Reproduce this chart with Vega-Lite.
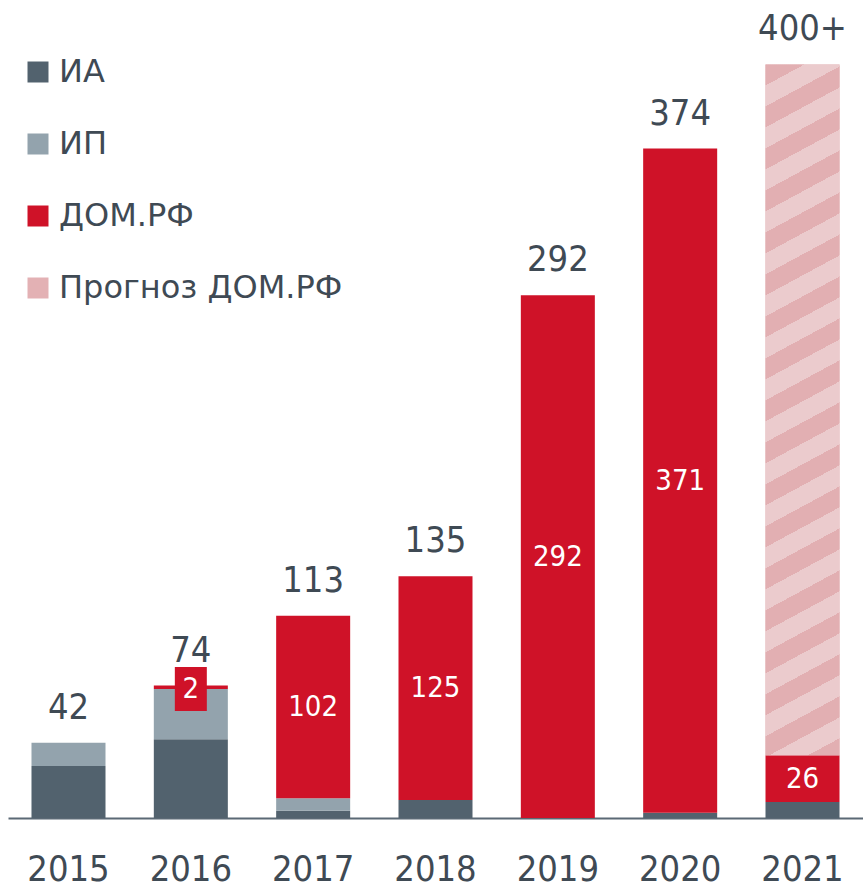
{
  "$schema": "https://vega.github.io/schema/vega-lite/v6.json",
  "width": 855,
  "height": 818,
  "padding": {"left": 8, "top": 0, "right": 0, "bottom": 69},
  "autosize": {"type": "none"},
  "background": "white",
  "config": {
    "view": {"stroke": null},
    "font": "DejaVu Sans Condensed",
    "text": {"font": "DejaVu Sans Condensed"}
  },
  "data": {
    "values": [
      {"year": 2015, "series": "ИА", "value": 29},
      {"year": 2015, "series": "ИП", "value": 13},
      {"year": 2016, "series": "ИА", "value": 44},
      {"year": 2016, "series": "ИП", "value": 28},
      {"year": 2016, "series": "ДОМ.РФ", "value": 2},
      {"year": 2017, "series": "ИА", "value": 4},
      {"year": 2017, "series": "ИП", "value": 7},
      {"year": 2017, "series": "ДОМ.РФ", "value": 102},
      {"year": 2018, "series": "ИА", "value": 10},
      {"year": 2018, "series": "ДОМ.РФ", "value": 125},
      {"year": 2019, "series": "ДОМ.РФ", "value": 292},
      {"year": 2020, "series": "ИА", "value": 3},
      {"year": 2020, "series": "ДОМ.РФ", "value": 371},
      {"year": 2021, "series": "ИА", "value": 9},
      {"year": 2021, "series": "ДОМ.РФ", "value": 26},
      {"year": 2021, "series": "Прогноз ДОМ.РФ", "value": 386}
    ]
  },
  "transform": [
    {"calculate": "indexof(['ИА','ИП','ДОМ.РФ','Прогноз ДОМ.РФ'], datum.series)", "as": "idx"},
    {"stack": "value", "groupby": ["year"], "sort": [{"field": "idx", "order": "ascending"}], "as": ["y0", "y1"]},
    {"calculate": "datum.value < 10 ? datum.y1 - 2 : (datum.y0 + datum.y1) / 2", "as": "labely"}
  ],
  "encoding": {
    "x": {
      "field": "year",
      "type": "ordinal",
      "scale": {"paddingInner": 0.395, "paddingOuter": 0.192},
      "axis": {
        "title": null,
        "labelAngle": 0,
        "ticks": false,
        "tickSize": 0,
        "grid": false,
        "domainColor": "#5B6975",
        "domainWidth": 2,
        "labelFontSize": 36,
        "labelColor": "#3F4A54",
        "labelBaseline": "alphabetic",
        "labelPadding": 62
      }
    }
  },
  "layer": [
    {
      "mark": {"type": "bar"},
      "encoding": {
        "y": {"field": "y1", "type": "quantitative", "scale": {"domain": [0, 457], "nice": false}, "axis": null},
        "y2": {"field": "y0"},
        "color": {
          "field": "series",
          "type": "nominal",
          "scale": {
            "domain": ["ИА", "ИП", "ДОМ.РФ", "Прогноз ДОМ.РФ"],
            "range": ["#52626E", "#93A3AD", "#CF1228", "#E3B1B4"]
          },
          "legend": {
            "title": null,
            "orient": "none",
            "legendX": 14,
            "legendY": 56,
            "padding": 0,
            "symbolType": "square",
            "symbolSize": 441,
            "symbolStrokeWidth": 0,
            "symbolOpacity": 1,
            "labelFont": "DejaVu Sans",
            "labelFontSize": 32,
            "labelColor": "#3F4A54",
            "labelOffset": 5,
            "labelLimit": 600,
            "rowPadding": 40
          }
        }
      }
    },
    {
      "transform": [{"filter": "datum.series == 'Прогноз ДОМ.РФ'"}],
      "mark": {
        "type": "bar",
        "fill": {
          "gradient": "linear",
          "x1": 0, "y1": 0, "x2": 0.0613, "y2": 1.06,
          "stops": [
            {"offset": 0, "color": "#E2AFB2"}, {"offset": 0.0286, "color": "#E2AFB2"}, {"offset": 0.0286, "color": "#EBCBCD"}, {"offset": 0.0571, "color": "#EBCBCD"},
            {"offset": 0.0571, "color": "#E2AFB2"}, {"offset": 0.0857, "color": "#E2AFB2"}, {"offset": 0.0857, "color": "#EBCBCD"}, {"offset": 0.1143, "color": "#EBCBCD"},
            {"offset": 0.1143, "color": "#E2AFB2"}, {"offset": 0.1429, "color": "#E2AFB2"}, {"offset": 0.1429, "color": "#EBCBCD"}, {"offset": 0.1714, "color": "#EBCBCD"},
            {"offset": 0.1714, "color": "#E2AFB2"}, {"offset": 0.2, "color": "#E2AFB2"}, {"offset": 0.2, "color": "#EBCBCD"}, {"offset": 0.2286, "color": "#EBCBCD"},
            {"offset": 0.2286, "color": "#E2AFB2"}, {"offset": 0.2571, "color": "#E2AFB2"}, {"offset": 0.2571, "color": "#EBCBCD"}, {"offset": 0.2857, "color": "#EBCBCD"},
            {"offset": 0.2857, "color": "#E2AFB2"}, {"offset": 0.3143, "color": "#E2AFB2"}, {"offset": 0.3143, "color": "#EBCBCD"}, {"offset": 0.3429, "color": "#EBCBCD"},
            {"offset": 0.3429, "color": "#E2AFB2"}, {"offset": 0.3714, "color": "#E2AFB2"}, {"offset": 0.3714, "color": "#EBCBCD"}, {"offset": 0.4, "color": "#EBCBCD"},
            {"offset": 0.4, "color": "#E2AFB2"}, {"offset": 0.4286, "color": "#E2AFB2"}, {"offset": 0.4286, "color": "#EBCBCD"}, {"offset": 0.4571, "color": "#EBCBCD"},
            {"offset": 0.4571, "color": "#E2AFB2"}, {"offset": 0.4857, "color": "#E2AFB2"}, {"offset": 0.4857, "color": "#EBCBCD"}, {"offset": 0.5143, "color": "#EBCBCD"},
            {"offset": 0.5143, "color": "#E2AFB2"}, {"offset": 0.5429, "color": "#E2AFB2"}, {"offset": 0.5429, "color": "#EBCBCD"}, {"offset": 0.5714, "color": "#EBCBCD"},
            {"offset": 0.5714, "color": "#E2AFB2"}, {"offset": 0.6, "color": "#E2AFB2"}, {"offset": 0.6, "color": "#EBCBCD"}, {"offset": 0.6286, "color": "#EBCBCD"},
            {"offset": 0.6286, "color": "#E2AFB2"}, {"offset": 0.6571, "color": "#E2AFB2"}, {"offset": 0.6571, "color": "#EBCBCD"}, {"offset": 0.6857, "color": "#EBCBCD"},
            {"offset": 0.6857, "color": "#E2AFB2"}, {"offset": 0.7143, "color": "#E2AFB2"}, {"offset": 0.7143, "color": "#EBCBCD"}, {"offset": 0.7429, "color": "#EBCBCD"},
            {"offset": 0.7429, "color": "#E2AFB2"}, {"offset": 0.7714, "color": "#E2AFB2"}, {"offset": 0.7714, "color": "#EBCBCD"}, {"offset": 0.8, "color": "#EBCBCD"},
            {"offset": 0.8, "color": "#E2AFB2"}, {"offset": 0.8286, "color": "#E2AFB2"}, {"offset": 0.8286, "color": "#EBCBCD"}, {"offset": 0.8571, "color": "#EBCBCD"},
            {"offset": 0.8571, "color": "#E2AFB2"}, {"offset": 0.8857, "color": "#E2AFB2"}, {"offset": 0.8857, "color": "#EBCBCD"}, {"offset": 0.9143, "color": "#EBCBCD"},
            {"offset": 0.9143, "color": "#E2AFB2"}, {"offset": 0.9429, "color": "#E2AFB2"}, {"offset": 0.9429, "color": "#EBCBCD"}, {"offset": 0.9714, "color": "#EBCBCD"},
            {"offset": 0.9714, "color": "#E2AFB2"}, {"offset": 1, "color": "#E2AFB2"}
          ]
        }
      },
      "encoding": {
        "y": {"field": "y1", "type": "quantitative", "scale": {"domain": [0, 457], "nice": false}},
        "y2": {"field": "y0"}
      }
    },
    {
      "transform": [{"filter": "datum.series == 'ДОМ.РФ' && datum.value > 0 && datum.value < 10"}],
      "mark": {"type": "point", "shape": "M-0.727,-1H0.727V1H-0.727Z", "size": 1936, "filled": true, "color": "#CF1228", "opacity": 1, "strokeWidth": 0},
      "encoding": {
        "y": {"field": "labely", "type": "quantitative", "scale": {"domain": [0, 457], "nice": false}}
      }
    },
    {
      "transform": [{"filter": "datum.series == 'ДОМ.РФ' && datum.value > 0"}],
      "mark": {"type": "text", "color": "white", "fontSize": 29, "baseline": "middle", "align": "center"},
      "encoding": {
        "y": {"field": "labely", "type": "quantitative", "scale": {"domain": [0, 457], "nice": false}},
        "text": {"field": "value", "type": "quantitative", "format": "d"}
      }
    },
    {
      "transform": [
        {"aggregate": [{"op": "max", "field": "y1", "as": "total"}], "groupby": ["year"]},
        {"calculate": "datum.year == 2021 ? '400+' : format(datum.total, 'd')", "as": "lbl"}
      ],
      "mark": {"type": "text", "color": "#3F4A54", "fontSize": 36, "baseline": "alphabetic", "align": "center", "dy": -24},
      "encoding": {
        "y": {"field": "total", "type": "quantitative", "scale": {"domain": [0, 457], "nice": false}},
        "text": {"field": "lbl", "type": "nominal"}
      }
    }
  ]
}
